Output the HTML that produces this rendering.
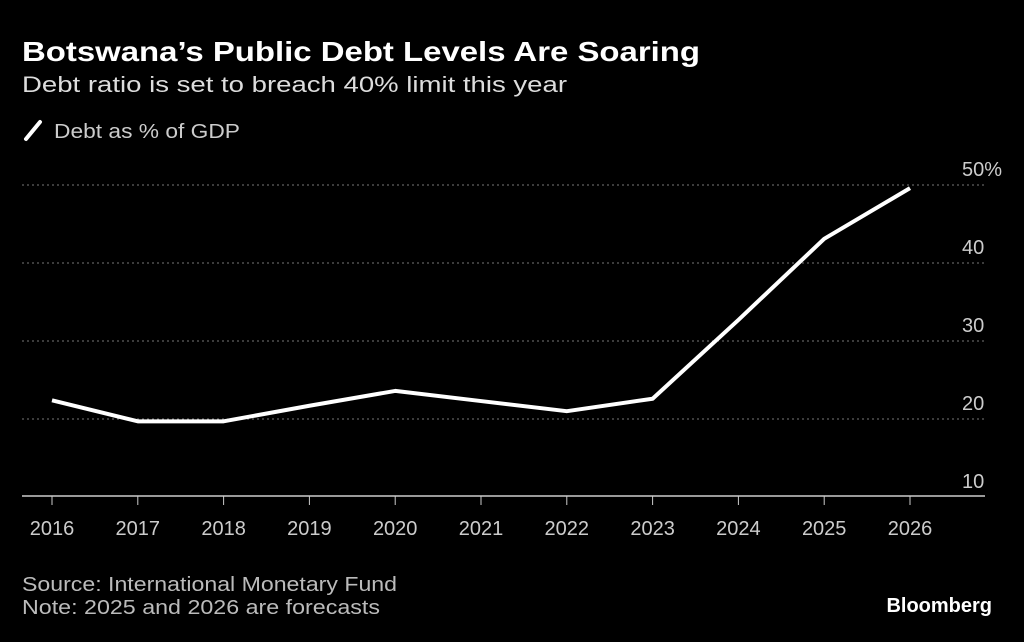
<!DOCTYPE html>
<html><head><meta charset="utf-8"><style>
body{margin:0;background:#000;width:1024px;height:642px;overflow:hidden;font-family:"Liberation Sans",sans-serif;color:#fff}
</style></head><body>
<svg width="1024" height="642" style="position:absolute;left:0;top:0">
<text x="22" y="61" font-size="28" font-weight="bold" fill="#fff" textLength="678" lengthAdjust="spacingAndGlyphs">Botswana’s Public Debt Levels Are Soaring</text>
<text x="22" y="92" font-size="22" fill="#ddd" textLength="545" lengthAdjust="spacingAndGlyphs">Debt ratio is set to breach 40% limit this year</text>
<line x1="26" y1="139" x2="40" y2="122" stroke="#fff" stroke-width="4" stroke-linecap="round"/>
<text x="54" y="138" font-size="20" fill="#ccc" textLength="186" lengthAdjust="spacingAndGlyphs">Debt as % of GDP</text>
<g id="grid"></g><g id="xaxis"></g>
<polyline id="line" fill="none" stroke="#fff" stroke-width="4" stroke-linejoin="round"/>
<text x="22" y="591" font-size="20" fill="#bbb" textLength="375" lengthAdjust="spacingAndGlyphs">Source: International Monetary Fund</text>
<text x="22" y="614" font-size="20" fill="#bbb" textLength="358" lengthAdjust="spacingAndGlyphs">Note: 2025 and 2026 are forecasts</text>
<text x="992" y="612" font-size="20" font-weight="bold" fill="#fff" text-anchor="end">Bloomberg</text>
</svg>
<script>
const years=[2016,2017,2018,2019,2020,2021,2022,2023,2024,2025,2026];
const debt=[22.4,19.7,19.7,21.7,23.6,22.3,21.0,22.6,32.7,43.1,49.6];
const yTicks=[10,20,30,40,50];
const yLabels=["10","20","30","40","50%"];
const NS="http://www.w3.org/2000/svg";
const x=i=>52+i*85.8;
const y=v=>497-(v-10)*7.8;
const grid=document.getElementById('grid'),xa=document.getElementById('xaxis');
yTicks.forEach((t,i)=>{
  if(t>10){const l=document.createElementNS(NS,'line');
  l.setAttribute('x1',22);l.setAttribute('x2',985);l.setAttribute('y1',y(t));l.setAttribute('y2',y(t));
  l.setAttribute('stroke','#777');l.setAttribute('stroke-dasharray','2,3');
  
  
  grid.appendChild(l);}
  const tx=document.createElementNS(NS,'text');
  tx.setAttribute('x',962);tx.setAttribute('y',y(t)-9);tx.setAttribute('font-size',20);tx.setAttribute('fill','#ccc');
  tx.textContent=yLabels[i];
  
  
  grid.appendChild(tx);
});
const ax=document.createElementNS(NS,'line');
ax.setAttribute('x1',22);ax.setAttribute('x2',985);ax.setAttribute('y1',496);ax.setAttribute('y2',496);ax.setAttribute('stroke','#ccc');ax.setAttribute('stroke-width',1.5);


xa.appendChild(ax);
years.forEach((yr,i)=>{
  const t=document.createElementNS(NS,'line');
  t.setAttribute('x1',x(i));t.setAttribute('x2',x(i));t.setAttribute('y1',496);t.setAttribute('y2',505);t.setAttribute('stroke','#ccc');
  
  
  xa.appendChild(t);
  const tx=document.createElementNS(NS,'text');
  tx.setAttribute('x',x(i));tx.setAttribute('y',535);tx.setAttribute('font-size',20);tx.setAttribute('fill','#ccc');tx.setAttribute('text-anchor','middle');
  tx.textContent=yr;
  
  
  xa.appendChild(tx);
});
document.getElementById('line').setAttribute('points',debt.map((v,i)=>x(i)+','+y(v)).join(' '));
</script>
</body></html>
